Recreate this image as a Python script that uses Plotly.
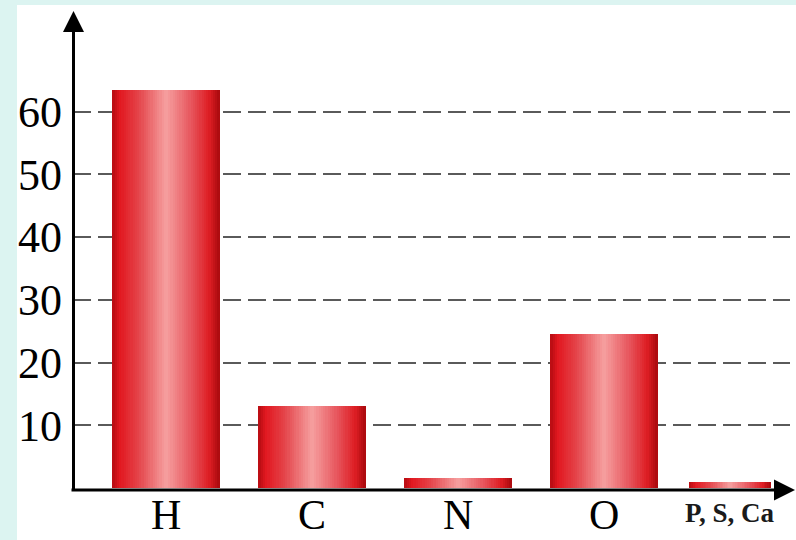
import plotly.graph_objects as go

# Share of atoms in the human body (%)
elements = ["H", "C", "N", "O", "P, S, Ca"]
percent = [63.5, 13.0, 1.6, 24.6, 0.9]
tick_values = [10, 20, 30, 40, 50, 60]

# bar geometry in category units (width, left offset from category centre)
bar_width = [0.733, 0.733, 0.733, 0.733, 0.555]
bar_left = [-0.3665, -0.3665, -0.3665, -0.3665, -0.411]

# horizontal shading across each bar: dark edge -> red -> pink centre -> red -> dark edge
stops = [
    (0.00, (182, 12, 18)),
    (0.07, (226, 24, 32)),
    (0.25, (228, 70, 76)),
    (0.50, (246, 160, 160)),
    (0.75, (230, 80, 88)),
    (0.90, (222, 30, 36)),
    (1.00, (170, 10, 14)),
]


def shade(t):
    for (t0, c0), (t1, c1) in zip(stops, stops[1:]):
        if t0 <= t <= t1:
            f = (t - t0) / (t1 - t0)
            r, g, b = (round(a + (b_ - a) * f) for a, b_ in zip(c0, c1))
            return f"rgb({r},{g},{b})"
    return "rgb(%d,%d,%d)" % stops[-1][1]


N = 48
fig = go.Figure()
for k in range(N):
    t = (k + 0.5) / N
    fig.add_trace(go.Bar(
        x=elements,
        y=percent,
        width=[w / N * 1.15 for w in bar_width],
        offset=[l + k * w / N for l, w in zip(bar_left, bar_width)],
        marker=dict(color=shade(t), line=dict(width=0)),
        hoverinfo="skip",
        showlegend=False,
    ))

W, H = 796, 540
ml, mr, mt, mb = 73, 6, 10, 52
pw, ph = W - ml - mr, H - mt - mb


def px_x(x):
    return (x - ml) / pw


def px_y(y):
    return (H - mb - y) / ph


serif = "Liberation Serif, Times New Roman, serif"

annotations = []
# category labels
for name in elements[:4]:
    annotations.append(dict(
        x=name, xref="x", y=px_y(515), yref="paper", text=name,
        showarrow=False, xanchor="center", yanchor="middle",
        font=dict(family=serif, size=42, color="black"),
    ))
annotations.append(dict(
    x=elements[4], xref="x", xshift=-20, y=px_y(513), yref="paper",
    text="<b>" + elements[4] + "</b>", showarrow=False,
    xanchor="center", yanchor="middle",
    font=dict(family=serif, size=27, color="#1a1a1a"),
))
# axis arrows
annotations.append(dict(
    x=px_x(73.5), xref="paper", y=px_y(11), yref="paper",
    ax=0, ay=H - mb - 11 + 4, axref="pixel", ayref="pixel",
    showarrow=True, arrowhead=2, arrowsize=1.4, arrowwidth=3,
    arrowcolor="black", text="",
))
annotations.append(dict(
    x=px_x(795), xref="paper", y=px_y(H - mb + 2), yref="paper",
    ax=-(795 - 70), ay=0, axref="pixel", ayref="pixel",
    showarrow=True, arrowhead=2, arrowsize=1.4, arrowwidth=3,
    arrowcolor="black", text="",
))

shapes = [
    # pale cyan frame on the left and top
    dict(type="rect", xref="paper", yref="paper", x0=px_x(0), x1=px_x(17),
         y0=px_y(H), y1=px_y(0), fillcolor="#dcf4f1", line=dict(width=0), layer="below"),
    dict(type="rect", xref="paper", yref="paper", x0=px_x(0), x1=px_x(W),
         y0=px_y(5), y1=px_y(0), fillcolor="#dcf4f1", line=dict(width=0), layer="below"),
]

fig.update_layout(
    width=W, height=H,
    margin=dict(l=ml, r=mr, t=mt, b=mb, pad=0),
    paper_bgcolor="white", plot_bgcolor="white",
    barmode="overlay", bargap=0,
    showlegend=False,
    annotations=annotations,
    shapes=shapes,
    xaxis=dict(
        type="category", range=[-0.637, 4.274],
        showticklabels=False, showgrid=False, zeroline=False, showline=False, ticks="",
        fixedrange=True,
    ),
    yaxis=dict(
        range=[0, 76.2], tickvals=tick_values, ticktext=[str(v) for v in tick_values],
        showgrid=True, gridcolor="#5a5a5a", gridwidth=2, griddash="18px,7px",
        zeroline=False, showline=False, ticks="", ticklabelstandoff=10,
        tickfont=dict(family=serif, size=44, color="black"),
        fixedrange=True,
    ),
)

fig.write_html("out.html", config={"displayModeBar": False})
